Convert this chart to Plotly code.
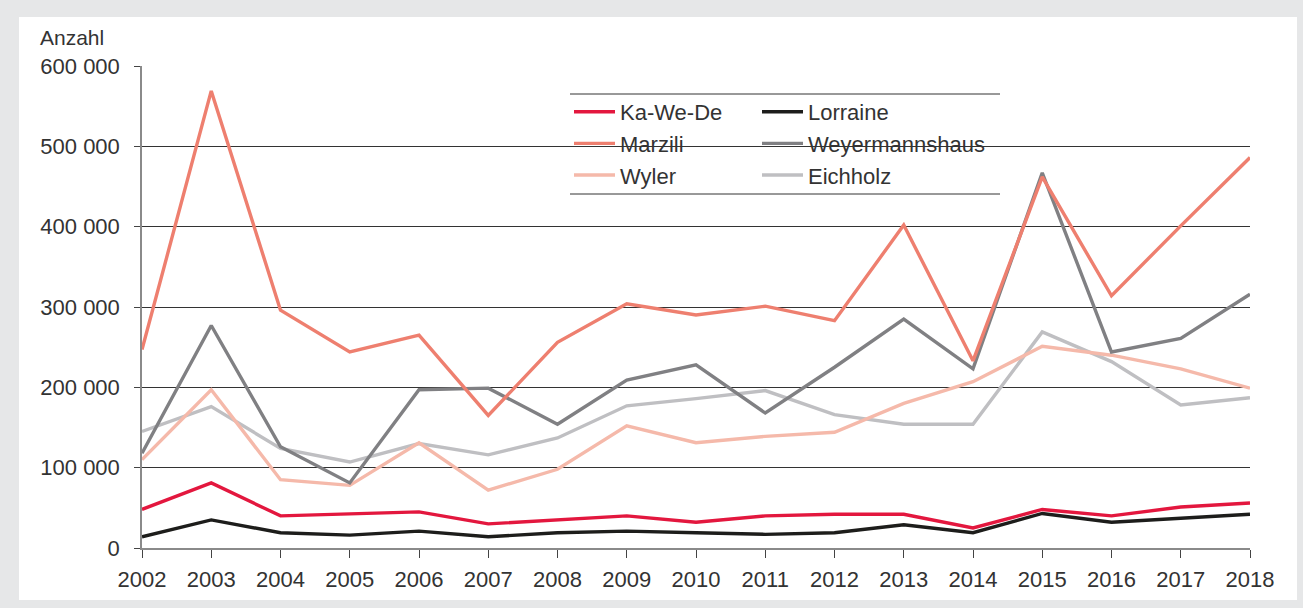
import plotly.graph_objects as go

years = list(range(2002, 2019))
ka_we_de = [48000, 81000, 40000, 42000, 45000, 30000, 35000, 40000, 32000, 40000, 42000, 42000, 25000, 48000, 40000, 51000, 56000]
lorraine = [14000, 35000, 19000, 16000, 21000, 14000, 19000, 21000, 19000, 17000, 19000, 29000, 19000, 43000, 32000, 37000, 42000]
marzili = [247000, 569000, 296000, 244000, 265000, 165000, 256000, 304000, 290000, 301000, 283000, 402000, 233000, 462000, 314000, 401000, 486000]
weyermannshaus = [118000, 277000, 126000, 81000, 197000, 199000, 154000, 209000, 228000, 168000, 225000, 285000, 223000, 467000, 244000, 261000, 316000]
wyler = [110000, 197000, 85000, 78000, 131000, 72000, 98000, 152000, 131000, 139000, 144000, 180000, 207000, 251000, 240000, 223000, 199000]
eichholz = [145000, 176000, 124000, 107000, 130000, 116000, 137000, 177000, 186000, 196000, 166000, 154000, 154000, 269000, 232000, 178000, 187000]

y_tickvals = [0, 100000, 200000, 300000, 400000, 500000, 600000]
y_ticktext = ["0", "100 000", "200 000", "300 000", "400 000", "500 000", "600 000"]

series = [
    ("Ka-We-De", ka_we_de, "#e3173e", "legend"),
    ("Marzili", marzili, "#ee7f6f", "legend"),
    ("Wyler", wyler, "#f5b9aa", "legend"),
    ("Lorraine", lorraine, "#1d1d1b", "legend2"),
    ("Weyermannshaus", weyermannshaus, "#808083", "legend2"),
    ("Eichholz", eichholz, "#bfbfc2", "legend2"),
]

W, H = 1303, 608
L, R, T, B = 142, 1250, 66, 548
pw, ph = R - L, B - T

def px_x(px):
    return (px - L) / pw

def px_y(py):
    return (B - py) / ph

fig = go.Figure()
draw_order = ["Eichholz", "Wyler", "Weyermannshaus", "Marzili", "Lorraine", "Ka-We-De"]
lookup = {s[0]: s for s in series}
names = [s[0] for s in series]
for name in draw_order:
    n, vals, col, lg = lookup[name]
    fig.add_trace(go.Scatter(
        x=years, y=vals, name=n, mode="lines",
        line=dict(color=col, width=3.4),
        legend=lg, legendgroup=n, cliponaxis=False,
        legendrank=names.index(n),
    ))

font_fam = "Liberation Sans, Arial, sans-serif"
leg_common = dict(
    xanchor="left", yanchor="top",
    bgcolor="rgba(255,255,255,0)", font=dict(size=22, color="#333333"),
    traceorder="grouped", tracegroupgap=0, itemwidth=41,
)
fig.update_layout(
    width=W, height=H,
    margin=dict(l=L, r=W - R, t=T, b=H - B, pad=0),
    paper_bgcolor="#e6e7e8",
    plot_bgcolor="white",
    font=dict(family=font_fam, size=21, color="#333333"),
    showlegend=True,
    legend=dict(x=px_x(569), y=px_y(91), **leg_common),
    legend2=dict(x=px_x(757), y=px_y(91), **leg_common),
    xaxis=dict(
        range=[2002, 2018], tickvals=years, ticktext=[str(y) for y in years],
        showgrid=False, zeroline=False,
        showline=True, linecolor="#8a8a8a", linewidth=2,
        ticks="outside", ticklen=8, tickwidth=1.2, tickcolor="#444444",
        tickfont=dict(size=22, color="#333333"), ticklabelstandoff=3,
    ),
    yaxis=dict(
        range=[0, 600000], tickvals=y_tickvals, ticktext=y_ticktext,
        showgrid=True, gridcolor="#333333", gridwidth=1,
        zeroline=False, showline=True, linecolor="#8a8a8a", linewidth=1.5,
        ticks="outside", ticklen=6, tickwidth=1, tickcolor="#444444",
        tickfont=dict(size=22, color="#333333"), ticklabelstandoff=10,
    ),
    shapes=[
        dict(type="rect", xref="paper", yref="paper",
             x0=px_x(19), x1=px_x(1297), y0=px_y(600), y1=px_y(17),
             fillcolor="white", line=dict(width=0), layer="below"),
        dict(type="rect", xref="paper", yref="paper",
             x0=px_x(563), x1=px_x(1007), y0=px_y(193), y1=px_y(95),
             fillcolor="white", line=dict(width=0), layer="between"),
        dict(type="line", xref="paper", yref="paper",
             x0=px_x(570), x1=px_x(1000), y0=px_y(94), y1=px_y(94),
             line=dict(color="#333333", width=1)),
        dict(type="line", xref="paper", yref="paper",
             x0=px_x(570), x1=px_x(1000), y0=px_y(194), y1=px_y(194),
             line=dict(color="#333333", width=1)),
    ],
    annotations=[
        dict(text="Anzahl", xref="paper", yref="paper",
             x=px_x(38), y=px_y(37), xanchor="left", yanchor="middle",
             showarrow=False, font=dict(size=21, color="#333333")),
    ],
)

fig.write_html(
    "out.html",
    config={"displayModeBar": False},
    post_script="document.body.style.margin='0';document.body.style.overflow='hidden';",
)
